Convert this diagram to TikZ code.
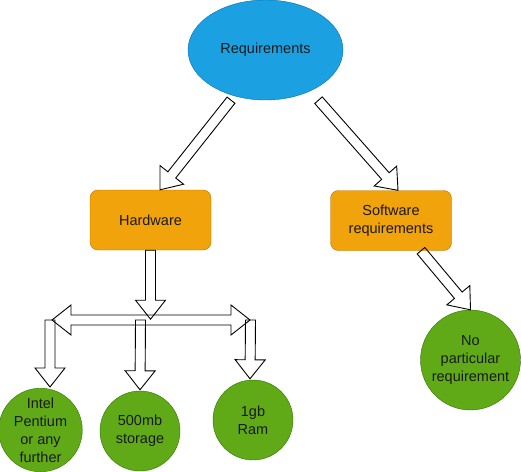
\documentclass[tikz,border=0pt]{standalone}
\usepackage{fontspec}
\setmainfont{Liberation Sans}
\usetikzlibrary{shapes.geometric,calc}

\definecolor{reqblue}{HTML}{1BA1E2}
\definecolor{reqline}{HTML}{006EAF}
\definecolor{boxorange}{HTML}{F0A30A}
\definecolor{boxline}{HTML}{BD7000}
\definecolor{leafgreen}{HTML}{60A917}
\definecolor{leafline}{HTML}{2D7600}
\definecolor{inktext}{HTML}{1A1A1A}

\tikzset{
  every node/.style={font=\fontsize{14.5}{18}\selectfont, text=inktext, align=center, inner sep=0pt},
  reqnode/.style={ellipse, draw=reqline, fill=reqblue, minimum width=155pt, minimum height=100pt},
  boxnode/.style={rectangle, rounded corners=8pt, draw=boxline, fill=boxorange, minimum width=121pt, minimum height=60pt},
  leafnode/.style={circle, draw=leafline, fill=leafgreen, minimum size=80pt},
  flexline/.style={draw=black, line width=0.9pt, line join=miter}
}

\newcommand{\shaftw}{5pt}
\newcommand{\headw}{15pt}
\newcommand{\headlen}{19pt}

% hollow block arrow from #1 to #2
\newcommand{\flexarrow}[2]{%
  \coordinate (fa-h) at ($(#2)!\headlen!(#1)$);
  \draw[flexline] ($(#1)!\shaftw!90:(#2)$) -- ($(fa-h)!\shaftw!90:(#2)$)
    -- ($(fa-h)!\headw!90:(#2)$) -- (#2) -- ($(fa-h)!\headw!-90:(#2)$)
    -- ($(fa-h)!\shaftw!-90:(#2)$) -- ($(#1)!\shaftw!-90:(#2)$) -- cycle;
}
% hollow block arrow with a head at both ends
\newcommand{\flexarrowboth}[2]{%
  \coordinate (fa-a) at ($(#1)!\headlen!(#2)$);
  \coordinate (fa-b) at ($(#2)!\headlen!(#1)$);
  \draw[flexline] (#1) -- ($(fa-a)!\headw!90:(#2)$) -- ($(fa-a)!\shaftw!90:(#2)$)
    -- ($(fa-b)!\shaftw!90:(#2)$) -- ($(fa-b)!\headw!90:(#2)$) -- (#2)
    -- ($(fa-b)!\headw!-90:(#2)$) -- ($(fa-b)!\shaftw!-90:(#2)$)
    -- ($(fa-a)!\shaftw!-90:(#2)$) -- ($(fa-a)!\headw!-90:(#2)$) -- cycle;
}

\begin{document}
\begin{tikzpicture}[x=1pt,y=-1pt]
\useasboundingbox (0,0) rectangle (521,471);

% nodes
\node[reqnode] (req) at (265.5,50) {Requirements};
\node[boxnode] (hw) at (150.5,220) {Hardware};
\node[boxnode] (sw) at (391,220.5) {Software\\requirements};
\node[leafnode, minimum size=100pt] (nopart) at (470.5,360) {No\\particular\\requirement};
\node[leafnode] (cpu) at (40.5,430) {Intel\\Pentium\\or any\\further};
\node[leafnode] (storage) at (140,431) {500mb\\storage};
\node[leafnode] (ram) at (253,420) {1gb\\Ram};

% arrow ends
\coordinate (req-hw) at ($(req.south)+(-34.5,0)$);
\coordinate (hw-in) at ($(hw.north)+(9.5,0)$);
\coordinate (req-sw) at ($(req.south)+(53,0)$);
\coordinate (sw-in) at ($(sw.north)+(7,0)$);
\coordinate (sw-out) at ($(sw.south)+(30,0)$);
\coordinate (bus-in) at ($(hw.south)+(0,69)$);
\coordinate (bus-l) at (52,320);
\coordinate (bus-r) at (250,320);
\coordinate (drop-cpu) at (50,320);
\coordinate (drop-storage) at (140.5,320);
\coordinate (drop-ram) at (250.5,320);
\coordinate (cpu-in) at ($(cpu.north)+(9.5,-1)$);
\coordinate (storage-in) at ($(storage.north)+(0,-1)$);
\coordinate (ram-in) at ($(ram.north)+(-3,-1)$);

% arrows
\flexarrow{req-hw}{hw-in}
\flexarrow{req-sw}{sw-in}
\flexarrow{sw-out}{nopart.north}
\flexarrow{hw.south}{bus-in}
\flexarrowboth{bus-l}{bus-r}
\flexarrow{drop-cpu}{cpu-in}
\flexarrow{drop-storage}{storage-in}
\flexarrow{drop-ram}{ram-in}
\end{tikzpicture}
\end{document}
